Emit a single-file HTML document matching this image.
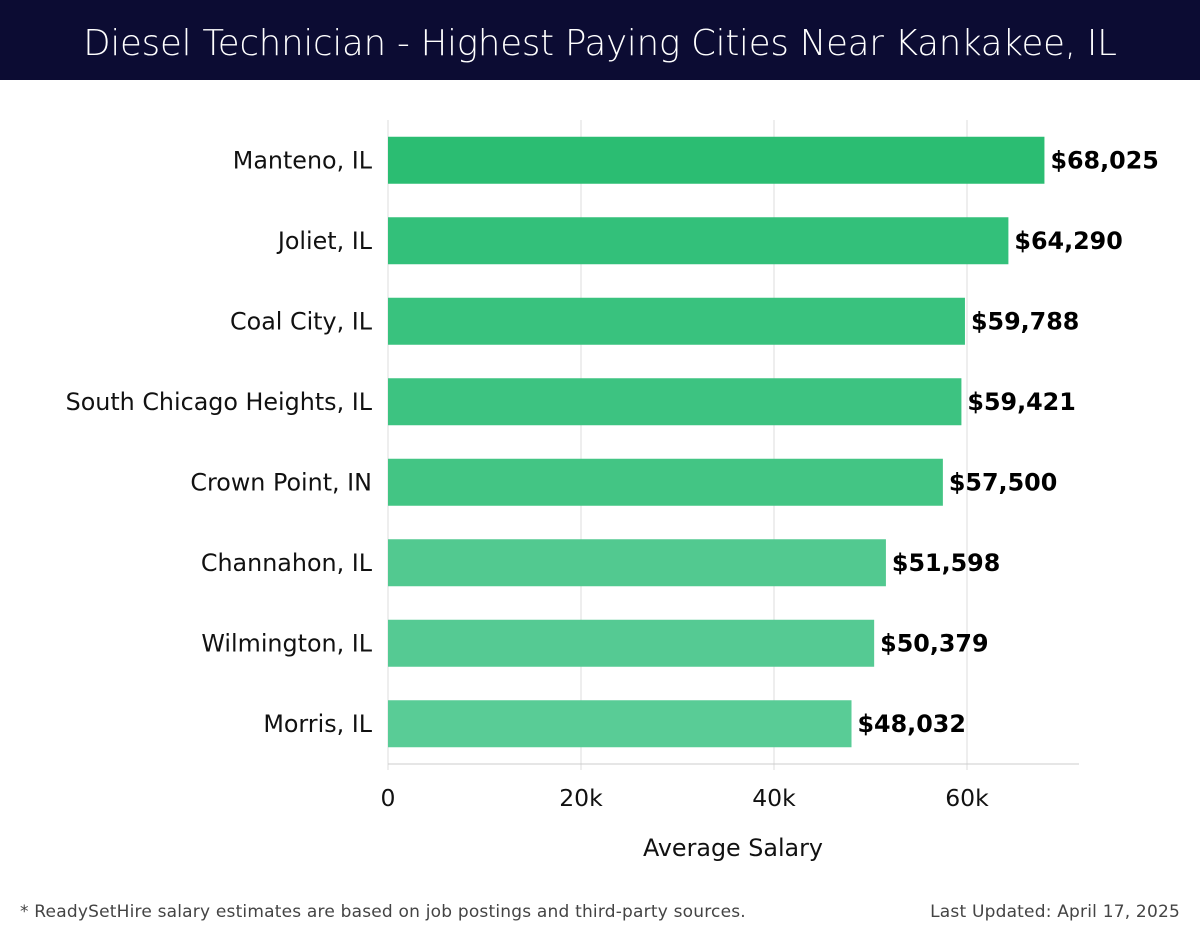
<!DOCTYPE html>
<html><head><meta charset="utf-8">
<style>
html,body{margin:0;padding:0;background:#fff;width:1200px;height:940px;overflow:hidden;font-family:"DejaVu Sans","Liberation Sans",sans-serif;}
#hdr{position:absolute;left:0;top:0;width:1200px;height:80px;background:#0c0c33;color:#fff;font-size:35.5px;text-align:center;line-height:88px;font-family:"DejaVu Sans","Liberation Sans",sans-serif;font-weight:300;letter-spacing:-0.2px}
svg{position:absolute;left:0;top:0;font-family:"DejaVu Sans","Liberation Sans",sans-serif}
.foot{position:absolute;top:902px;font-size:17px;color:#444;font-family:"DejaVu Sans","Liberation Sans",sans-serif;letter-spacing:0.2px}
</style></head><body>
<div id="hdr">Diesel Technician - Highest Paying Cities Near Kankakee, IL</div>
<svg id="chart" width="1200" height="940"></svg>
<div class="foot" style="left:20px">* ReadySetHire salary estimates are based on job postings and third-party sources.</div>
<div class="foot" style="right:20px">Last Updated: April 17, 2025</div>
<script>
const cities=["Manteno, IL","Joliet, IL","Coal City, IL","South Chicago Heights, IL","Crown Point, IN","Channahon, IL","Wilmington, IL","Morris, IL"];
const salaries=[68025,64290,59788,59421,57500,51598,50379,48032];
const ticks=[0,20000,40000,60000];
const tickLabels=["0","20k","40k","60k"];
const colors=["#2bbd72","#33c07a","#39c27e","#3dc381","#43c584","#52c990","#55ca93","#59cc96"];
const NS="http://www.w3.org/2000/svg";
const svg=document.getElementById('chart');
const x0=388,pxPer=193/20000,plotTop=120,plotBot=764,plotRight=1079;
const step=(plotBot-plotTop)/cities.length,barH=47;
const xs=v=>x0+v*pxPer;
const ys=i=>plotTop+step*i+step/2;
function mk(t,a){const e=document.createElementNS(NS,t);for(const k in a)e.setAttribute(k,a[k]);svg.appendChild(e);return e;}
ticks.forEach((t,i)=>{
  const g=mk('line',{x1:xs(t),x2:xs(t),y1:plotTop,y2:plotBot+6,stroke:'#dddddd','stroke-width':1});
  
  
  const l=mk('text',{x:xs(t),y:806,'text-anchor':'middle','font-size':23.5,fill:'#111'});
  l.textContent=tickLabels[i];
  
  
});
const ax=mk('line',{x1:x0,x2:plotRight,y1:plotBot,y2:plotBot,stroke:'#cccccc','stroke-width':1});


cities.forEach((c,i)=>{
  const y=ys(i);
  const r=mk('rect',{x:x0,y:y-barH/2,width:xs(salaries[i])-x0,height:barH,fill:colors[i]});
  
  
  const lab=mk('text',{x:372,y:y+8,'text-anchor':'end','font-size':23.8,fill:'#111'});
  lab.textContent=c;
  
  
  const v=mk('text',{x:xs(salaries[i])+6,y:y+8,'font-size':23.8,'font-weight':'bold',fill:'#000'});
  v.textContent='$'+salaries[i].toLocaleString('en-US');
  
  
});
const xt=mk('text',{x:733,y:856,'text-anchor':'middle','font-size':23.8,fill:'#111'});
xt.textContent='Average Salary';


</script>
</body></html>
